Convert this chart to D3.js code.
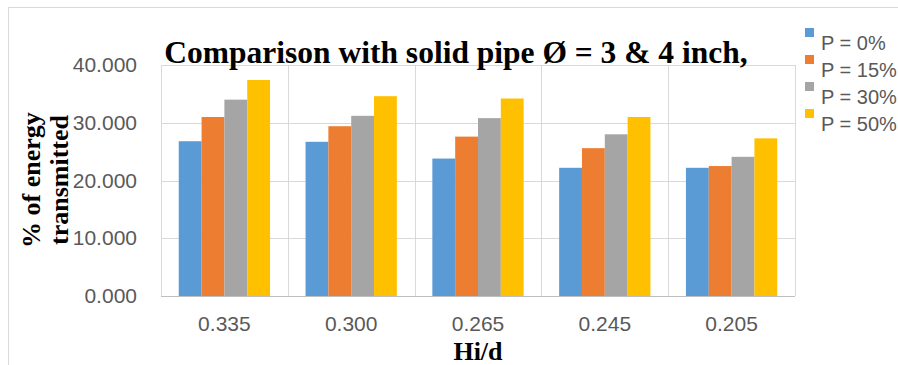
<!DOCTYPE html>
<html>
<head>
<meta charset="utf-8">
<script src="https://cdn.jsdelivr.net/npm/d3@7"></script>
<style>
body { margin: 0; background: #fff; }
svg { display: block; }
</style>
</head>
<body>
<svg></svg>
<script>
var categories = ["0.335", "0.300", "0.265", "0.245", "0.205"];
var seriesNames = ["P = 0%", "P = 15%", "P = 30%", "P = 50%"];
var p0 = [26.8, 26.7, 23.8, 22.2, 22.2];
var p15 = [31.0, 29.4, 27.6, 25.6, 22.5];
var p30 = [34.0, 31.2, 30.8, 28.0, 24.1];
var p50 = [37.4, 34.6, 34.2, 31.0, 27.3];
var yTicks = [0, 10, 20, 30, 40];
var colors = ["#5b9bd5", "#ed7d31", "#a5a5a5", "#ffc000"];

var series = [p0, p15, p30, p50];

var svgWidth = 898, svgHeight = 365;
var plot = {left: 161, right: 795, top: 65, bottom: 296};

var svg = d3.select('svg').attr('width', svgWidth).attr('height', svgHeight);

// chart border
svg.append("rect")
    .attr("x", 8.5).attr("y", 7.5)
    .attr("width", svgWidth).attr("height", svgHeight)
    .attr("fill", "none")
    .attr("stroke", "#d9d9d9");

var x0 = d3.scaleBand().domain(categories).range([plot.left, plot.right])
    .paddingInner(0.28).paddingOuter(0.14);
var x1 = d3.scaleBand().domain(d3.range(series.length)).range([0, x0.bandwidth()]);
var yScale = d3.scaleLinear().domain([0, 40]).range([plot.bottom, plot.top]);

// horizontal grid
svg.append("g").selectAll("line")
    .data(yTicks)
    .enter().append("line")
    .attr("x1", plot.left).attr("x2", plot.right)
    .attr("y1", function (d) { return Math.round(yScale(d)) + 0.5; })
    .attr("y2", function (d) { return Math.round(yScale(d)) + 0.5; })
    .attr("stroke", "#d9d9d9");

// vertical grid at category boundaries
var step = x0.step();
var bounds = d3.range(categories.length + 1).map(function (i) { return plot.left + step * i; });
svg.append("g").selectAll("line")
    .data(bounds)
    .enter().append("line")
    .attr("x1", function (d) { return Math.round(d) + 0.5; })
    .attr("x2", function (d) { return Math.round(d) + 0.5; })
    .attr("y1", plot.top).attr("y2", plot.bottom)
    .attr("stroke", "#d9d9d9");

// bars
var groups = svg.append("g").selectAll("g")
    .data(categories)
    .enter().append("g")
    .attr("transform", function (d) { return "translate(" + x0(d) + ",0)"; });

groups.selectAll("rect")
    .data(function (d, i) { return series.map(function (s, j) { return {k: j, v: s[i]}; }); })
    .enter().append("rect")
    .attr("x", function (d) { return x1(d.k); })
    .attr("width", x1.bandwidth())
    .attr("y", function (d) { return yScale(d.v); })
    .attr("height", function (d) { return plot.bottom - yScale(d.v); })
    .attr("fill", function (d) { return colors[d.k]; });

// bottom axis line
svg.append("line")
    .attr("x1", plot.left).attr("x2", plot.right)
    .attr("y1", plot.bottom + 0.5).attr("y2", plot.bottom + 0.5)
    .attr("stroke", "#bfbfbf");

// axes
var y_axis = d3.axisLeft(yScale).tickValues(yTicks).tickSize(0).tickPadding(24)
    .tickFormat(d3.format(".3f"));
var gy = svg.append("g")
    .attr("transform", "translate(" + plot.left + ",0)")
    .call(y_axis);
gy.select(".domain").remove();
gy.selectAll("text")
    .attr("font-family", "Liberation Sans, Arial, sans-serif")
    .attr("font-size", 21)
    .attr("fill", "#595959");

var x_axis = d3.axisBottom(x0).tickSize(0).tickPadding(20);
var gx = svg.append("g")
    .attr("transform", "translate(0," + plot.bottom + ")")
    .call(x_axis);
gx.select(".domain").remove();
gx.selectAll("text")
    .attr("font-family", "Liberation Sans, Arial, sans-serif")
    .attr("font-size", 21)
    .attr("fill", "#595959");

// title
svg.append("text")
    .attr("x", 456).attr("y", 63)
    .attr("text-anchor", "middle")
    .attr("font-family", "Liberation Serif, Times New Roman, serif")
    .attr("font-weight", "bold")
    .attr("font-size", 31.5)
    .attr("fill", "#000")
    .text("Comparison with solid pipe Ø = 3 & 4 inch,");

// y axis title
var yt = svg.append("text")
    .attr("transform", "translate(40,180) rotate(-90)")
    .attr("text-anchor", "middle")
    .attr("font-family", "Liberation Serif, Times New Roman, serif")
    .attr("font-weight", "bold")
    .attr("font-size", 26)
    .attr("fill", "#000");
yt.append("tspan").attr("x", 0).attr("y", 0).text("% of energy");
yt.append("tspan").attr("x", 0).attr("y", 28).text("transmitted");

// x axis title
svg.append("text")
    .attr("x", 478).attr("y", 360)
    .attr("text-anchor", "middle")
    .attr("font-family", "Liberation Serif, Times New Roman, serif")
    .attr("font-weight", "bold")
    .attr("font-size", 26)
    .attr("fill", "#000")
    .text("Hi/d");

// legend
var legend = svg.append("g").selectAll("g")
    .data(seriesNames)
    .enter().append("g")
    .attr("transform", function (d, i) { return "translate(805," + (28 + i * 27) + ")"; });
legend.append("rect")
    .attr("width", 9).attr("height", 9)
    .attr("fill", function (d, i) { return colors[i]; });
legend.append("text")
    .attr("x", 16).attr("y", 22)
    .attr("font-family", "Liberation Sans, Arial, sans-serif")
    .attr("font-size", 20)
    .attr("fill", "#595959")
    .text(function (d) { return d; });
</script>
</body>
</html>
